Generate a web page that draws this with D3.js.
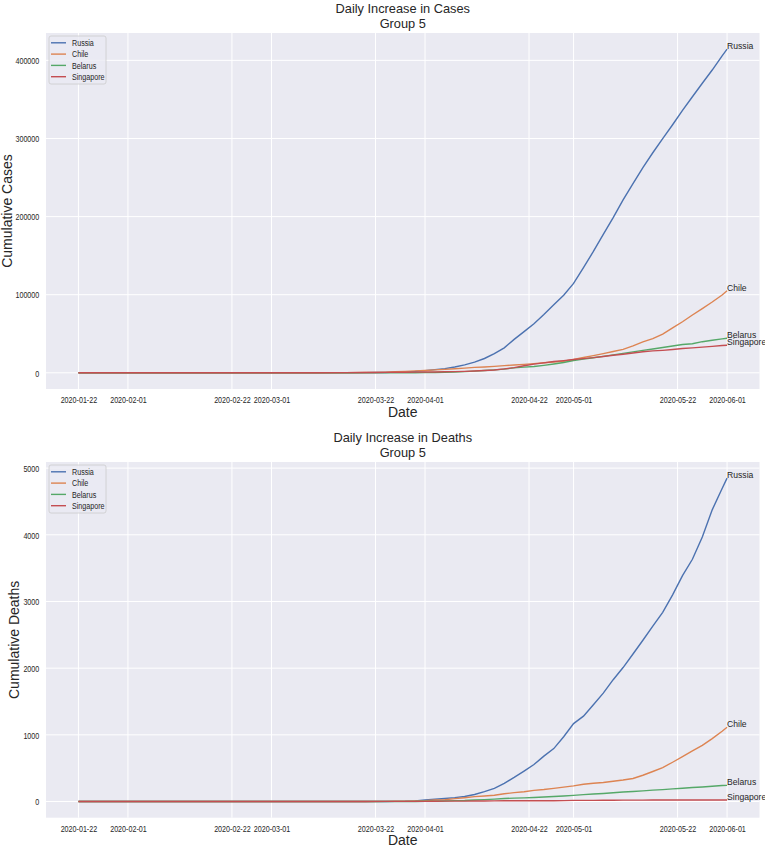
<!DOCTYPE html>
<html>
<head>
<meta charset="utf-8">
<script src="https://d3js.org/d3.v7.min.js"></script>
<style>
  body { margin: 0; background: #fff; }
  text { font-family: "Liberation Sans", Arial, sans-serif; fill: #262626; }
</style>
</head>
<body>
<svg id="chart" width="765" height="848"></svg>
<script>
// sampled dates (cumulative counts, JHU style)
const dates = ['2020-01-22','2020-02-22','2020-03-10','2020-03-16','2020-03-20','2020-03-22','2020-03-24','2020-03-26','2020-03-28','2020-03-30',
  '2020-04-01','2020-04-03','2020-04-05','2020-04-07','2020-04-09','2020-04-11','2020-04-13','2020-04-15','2020-04-17','2020-04-19',
  '2020-04-21','2020-04-23','2020-04-25','2020-04-27','2020-04-29','2020-05-01','2020-05-03','2020-05-05','2020-05-07','2020-05-09',
  '2020-05-11','2020-05-13','2020-05-15','2020-05-17','2020-05-19','2020-05-21','2020-05-23','2020-05-25','2020-05-27','2020-05-29',
  '2020-05-31','2020-06-01'];

const countries = ['Russia', 'Chile', 'Belarus', 'Singapore'];
const colors = ['#4c72b0', '#dd8452', '#55a868', '#c44e52'];

const casesRussia = [0,2,20,90,253,367,495,840,1264,1836,2777,4149,5389,7497,10131,13584,18328,24490,32008,42853,
  52763,62773,74588,87147,99399,114431,134687,155370,177160,198676,221344,242271,262843,281752,299941,317554,335882,353427,370680,387623,405843,414328];
const casesChile = [0,0,13,155,434,632,922,1306,1909,2449,3031,3737,4471,5116,5972,6927,7525,8273,9252,10088,
  10832,11812,12858,13813,14885,17008,19663,22016,24581,27219,30063,34381,39542,43781,49579,57581,65393,73997,82289,90638,99688,105159];
const casesBelarus = [0,0,10,36,69,76,86,94,94,152,304,440,700,861,1486,2226,2919,3728,4779,6264,
  7281,8022,9590,11289,13181,15828,17489,19255,21101,22973,24873,26772,28681,30572,32426,34303,36198,37144,39858,41658,43403,44255];
const casesSingapore = [0,89,160,243,385,455,558,683,802,926,1000,1114,1309,1481,1910,2299,2918,3699,5050,6588,
  9125,11178,12693,14423,15641,17101,18205,19410,20939,22460,23822,25346,26891,28038,28794,29812,31068,31960,32876,33860,34884,35292];

const deathsRussia = [0,0,0,0,1,1,1,3,4,9,24,34,45,58,76,106,148,198,273,361,
  456,555,681,794,972,1169,1280,1451,1625,1827,2009,2212,2418,2631,2837,3099,3388,3633,3968,4374,4693,4849];
const deathsChile = [0,0,0,0,0,1,2,4,6,8,12,22,27,43,57,73,82,94,116,133,
  147,168,181,198,216,234,260,275,285,304,323,346,394,450,509,589,673,761,841,944,1054,1113];
const deathsBelarus = [0,0,0,0,0,0,0,0,0,0,4,5,8,13,16,23,29,36,45,51,
  55,60,67,75,84,93,103,112,121,131,142,151,160,171,179,190,199,210,219,229,240,243];
const deathsSingapore = [0,0,0,0,0,2,2,2,2,3,3,5,6,6,6,7,8,10,11,11,
  11,12,12,12,14,17,18,18,20,20,21,21,21,22,22,22,22,23,23,23,23,23];

const xTickLabels = ['2020-01-22','2020-02-01','2020-02-22','2020-03-01','2020-03-22','2020-04-01','2020-04-22','2020-05-01','2020-05-22','2020-06-01'];
const casesTicks = [0, 100000, 200000, 300000, 400000];
const deathsTicks = [0, 1000, 2000, 3000, 4000, 5000];

const parse = d3.utcParse('%Y-%m-%d');
const svg = d3.select('#chart');
const left = 46, right = 759.5;

const t0 = parse(dates[0]), t1 = parse(dates[dates.length - 1]);
const xPad = (t1 - t0) * 0.05;
const x = d3.scaleUtc().domain([new Date(+t0 - xPad), new Date(+t1 + xPad)]).range([left, right]);

const panels = [
  {title: 'Daily Increase in Cases', ylabel: 'Cumulative Cases', series: [casesRussia, casesChile, casesBelarus, casesSingapore],
   ticks: casesTicks, top: 33, bottom: 389, titleY: 12.5, ylabelX: 11.7},
  {title: 'Daily Increase in Deaths', ylabel: 'Cumulative Deaths', series: [deathsRussia, deathsChile, deathsBelarus, deathsSingapore],
   ticks: deathsTicks, top: 462, bottom: 817.7, titleY: 441.5, ylabelX: 19.3}
];

panels.forEach(p => {
  const all = p.series.flat();
  const lo = d3.min(all), hi = d3.max(all), pad = (hi - lo) * 0.05;
  const y = d3.scaleLinear().domain([lo - pad, hi + pad]).range([p.bottom, p.top]);
  const g = svg.append('g');

  g.append('rect').attr('x', left).attr('y', p.top)
    .attr('width', right - left).attr('height', p.bottom - p.top).attr('fill', '#eaeaf2');

  // grid
  g.selectAll('.vg').data(xTickLabels).enter().append('line')
    .attr('x1', d => x(parse(d))).attr('x2', d => x(parse(d)))
    .attr('y1', p.top).attr('y2', p.bottom)
    .attr('stroke', '#fff').attr('stroke-width', 1);
  g.selectAll('.hg').data(p.ticks).enter().append('line')
    .attr('x1', left).attr('x2', right)
    .attr('y1', d => y(d)).attr('y2', d => y(d))
    .attr('stroke', '#fff').attr('stroke-width', 1);

  // axes
  const xAxis = d3.axisBottom(x).tickValues(xTickLabels.map(parse)).tickSize(0).tickFormat(d3.utcFormat('%Y-%m-%d'));
  const xg = g.append('g').attr('transform', 'translate(0,' + p.bottom + ')').call(xAxis);
  xg.select('.domain').remove();
  xg.selectAll('text').attr('y', 0).attr('dy', 14.3).attr('font-size', 9.3)
    .attr('transform', 'scale(0.77,1)').style('fill', '#262626');

  const yAxis = d3.axisLeft(y).tickValues(p.ticks).tickSize(0).tickFormat(d3.format('d'));
  const yg = g.append('g').attr('transform', 'translate(' + left + ',0)').call(yAxis);
  yg.select('.domain').remove();
  yg.selectAll('text').attr('x', 0).attr('dy', '0.35em').attr('font-size', 9.3)
    .attr('transform', 'translate(-6.7,0) scale(0.77,1)').style('fill', '#262626');

  // lines
  const line = d3.line().x((d, i) => x(parse(dates[i]))).y(d => y(d));
  p.series.forEach((s, i) => {
    g.append('path').datum(s).attr('d', line)
      .attr('fill', 'none').attr('stroke', colors[i]).attr('stroke-width', 1.4);
  });
  p.series.forEach((s, i) => {
    g.append('text').attr('x', x(t1)).attr('y', y(s[s.length - 1]))
      .attr('font-size', 8.6).text(countries[i]);
  });

  // titles
  g.append('text').attr('x', (left + right) / 2).attr('y', p.titleY)
    .attr('text-anchor', 'middle').attr('font-size', 12.8).text(p.title);
  g.append('text').attr('x', (left + right) / 2).attr('y', p.titleY + 15.2)
    .attr('text-anchor', 'middle').attr('font-size', 12.8).text('Group 5');
  g.append('text').attr('x', (left + right) / 2).attr('y', p.bottom + 27.5)
    .attr('text-anchor', 'middle').attr('font-size', 14).text('Date');
  g.append('text').attr('transform', 'translate(' + p.ylabelX + ',' + (p.top + p.bottom) / 2 + ') rotate(-90)')
    .attr('text-anchor', 'middle').attr('font-size', 14).text(p.ylabel);

  // legend
  const lg = g.append('g').attr('transform', 'translate(' + (left + 3) + ',' + (p.top + 3) + ')');
  lg.append('rect').attr('width', 57).attr('height', 48).attr('rx', 2)
    .attr('fill', '#eaeaf2').attr('fill-opacity', 0.8).attr('stroke', '#cccccc').attr('stroke-width', 0.8);
  countries.forEach((c, i) => {
    const yy = 6.8 + i * 11.3;
    lg.append('line').attr('x1', 2).attr('x2', 17).attr('y1', yy).attr('y2', yy)
      .attr('stroke', colors[i]).attr('stroke-width', 1.4);
    lg.append('text').attr('transform', 'translate(23,' + yy + ') scale(0.77,1)')
      .attr('dy', '0.35em').attr('font-size', 9.3).text(c);
  });
});
</script>
</body>
</html>
